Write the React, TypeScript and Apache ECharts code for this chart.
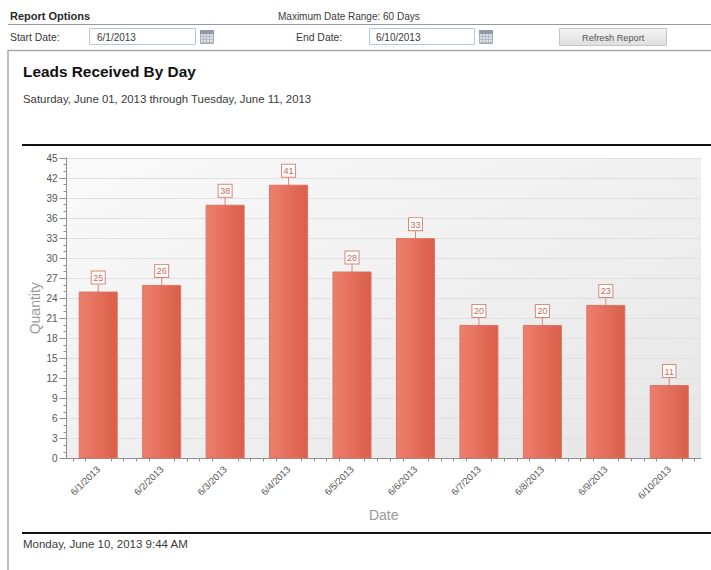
import React, { useEffect, useRef } from "react";
import * as echarts from "echarts";

const categories = ["6/1/2013","6/2/2013","6/3/2013","6/4/2013","6/5/2013","6/6/2013","6/7/2013","6/8/2013","6/9/2013","6/10/2013"];
const quantities = [25,26,38,41,28,33,20,20,23,11];
const minorTickValues = [0.5,1.5,3.5,4.5,5.5,6.5,8.5,9.5,10.5,11.5,13.5,14.5,15.5,16.5,18.5,19.5,20.5,21.5,23.5,24.5,25.5,26.5,28.5,29.5,30.5,31.5,33.5,34.5,35.5,36.5,38.5,39.5,40.5,41.5,43.5,44.5,45.5,46.5,48.5,49.5];

const UI = "'Liberation Sans', Arial, sans-serif";

function txt(x: number, y: number, text: string, font: string, fill = "#3a3a3a") {
  return { type: "text", x, y, silent: true, style: { text, font, fill, textVerticalAlign: "middle" } };
}
function ln(x1: number, y1: number, x2: number, y2: number, stroke: string, lineWidth = 1) {
  return { type: "line", silent: true, shape: { x1, y1, x2, y2 }, style: { stroke, lineWidth } };
}
function input(x: number, w: number) {
  return { type: "rect", silent: true, shape: { x: x + 0.5, y: 28.5, width: w, height: 16 }, style: { fill: "#fff", stroke: "#b3c9df", lineWidth: 1 } };
}
function calendar(x: number) {
  const lines: any[] = [];
  [3, 6, 9].forEach((d) => {
    lines.push(ln(x + d + 0.5, 34, x + d + 0.5, 43, "#b4bbc4"));
    lines.push(ln(x, 34 + d - 0.5, x + 13, 34 + d - 0.5, "#b4bbc4"));
  });
  return [
    { type: "rect", silent: true, shape: { x: x + 0.5, y: 30.5, width: 13, height: 13 }, style: { fill: "#dde1e6", stroke: "#a3abb5", lineWidth: 1 } },
    { type: "rect", silent: true, shape: { x: x + 0.5, y: 30.5, width: 13, height: 3 }, style: { fill: "#8f9aa8", stroke: "#8f9aa8", lineWidth: 1 } },
    ...lines,
  ];
}

export default function App() {
  const ref = useRef<HTMLDivElement>(null);
  useEffect(() => {
    const chart = echarts.init(ref.current!, undefined, { renderer: "svg" });
    chart.setOption({
      animation: false,
      backgroundColor: "#fff",
      grid: {
        left: 66.5, top: 158, width: 634.5, height: 300.5, containLabel: false, show: true, borderWidth: 0,
        backgroundColor: { type: "linear", x: 0, y: 0, x2: 1, y2: 1, colorStops: [{ offset: 0, color: "#fafafa" }, { offset: 1, color: "#e6e6e6" }] },
      },
      xAxis: [
        {
          type: "category", data: categories, name: "Date", nameLocation: "middle", nameGap: 49, nameMoveOverlap: false,
          nameTextStyle: { color: "#9a9a9a", fontSize: 14, fontFamily: UI },
          axisLine: { lineStyle: { color: "#8f8f8f" } },
          axisTick: { alignWithLabel: true, length: 7, lineStyle: { color: "#8f8f8f" } },
          axisLabel: { rotate: 45, fontSize: 9.5, color: "#555", fontFamily: UI, interval: 0, margin: 9 },
        },
        {
          type: "value", position: "bottom", min: 0, max: 50, show: true,
          axisLine: { show: false }, axisLabel: { show: false }, splitLine: { show: false },
          axisTick: { show: true, customValues: minorTickValues, length: 3, lineStyle: { color: "#8f8f8f" } },
        },
      ],
      yAxis: {
        type: "value", min: 0, max: 45, interval: 3, name: "Quantity", nameLocation: "middle", nameGap: 25, nameMoveOverlap: false,
        nameTextStyle: { color: "#9a9a9a", fontSize: 14, fontFamily: UI },
        axisLine: { show: true, lineStyle: { color: "#8f8f8f" } },
        axisTick: { show: true, length: 7, lineStyle: { color: "#8f8f8f" } },
        minorTick: { show: true, splitNumber: 3, length: 3, lineStyle: { color: "#8f8f8f" } },
        axisLabel: { fontSize: 10, color: "#555", fontFamily: UI, margin: 9 },
        splitLine: { lineStyle: { color: "#e0e0e0" } },
      },
      series: [{
        type: "bar", data: quantities, barWidth: 39, xAxisIndex: 0,
        itemStyle: {
          color: { type: "linear", x: 0, y: 0, x2: 1, y2: 0, colorStops: [{ offset: 0, color: "#ee7f6d" }, { offset: 1, color: "#d95f49" }] },
          borderColor: "#dc7362", borderWidth: 1,
        },
        label: { show: true, position: "top", distance: 1, fontSize: 9, color: "#c96a59", fontFamily: UI, backgroundColor: "#fff", borderColor: "#d98878", borderWidth: 1, padding: [2, 1.5, 1, 1.5] },
        labelLayout: { dy: -7 },
        labelLine: { show: true, lineStyle: { color: "#d98878", width: 1 } },
      }],
      graphic: [
        txt(10, 16, "Report Options", `bold 11px ${UI}`, "#2a2a2a"),
        txt(278, 16, "Maximum Date Range: 60 Days", `10px ${UI}`),
        ln(8, 24.5, 711, 24.5, "#999", 1.2),
        txt(10, 37, "Start Date:", `10.4px ${UI}`),
        input(89, 106),
        txt(97, 37, "6/1/2013", `10px ${UI}`),
        ...calendar(200),
        txt(296, 37, "End Date:", `10.4px ${UI}`),
        input(369, 105),
        txt(376, 37, "6/10/2013", `10px ${UI}`),
        ...calendar(479),
        { type: "rect", silent: true, shape: { x: 559.5, y: 28.5, width: 107, height: 17 }, style: { fill: { type: "linear", x: 0, y: 0, x2: 0, y2: 1, colorStops: [{ offset: 0, color: "#f4f4f4" }, { offset: 1, color: "#dedede" }] }, stroke: "#c4c4c4", lineWidth: 1 } },
        txt(582, 38, "Refresh Report", `9.2px ${UI}`, "#555"),
        ln(8, 50.5, 711, 50.5, "#aaa", 1.5),
        ln(8, 50, 8, 570, "#aaa", 1.5),
        txt(23, 71.5, "Leads Received By Day", `bold 15.4px ${UI}`, "#111"),
        txt(23, 99, "Saturday, June 01, 2013 through Tuesday, June 11, 2013", `11.4px ${UI}`),
        ln(22, 145, 711, 145, "#111", 2),
        ln(22, 533, 711, 533, "#111", 2),
        txt(23, 544, "Monday, June 10, 2013 9:44 AM", `11.5px ${UI}`),
      ],
    });
    return () => chart.dispose();
  }, []);
  return <div ref={ref} style={{ position: "fixed", left: 0, top: 0, width: 711, height: 570 }} />;
}
